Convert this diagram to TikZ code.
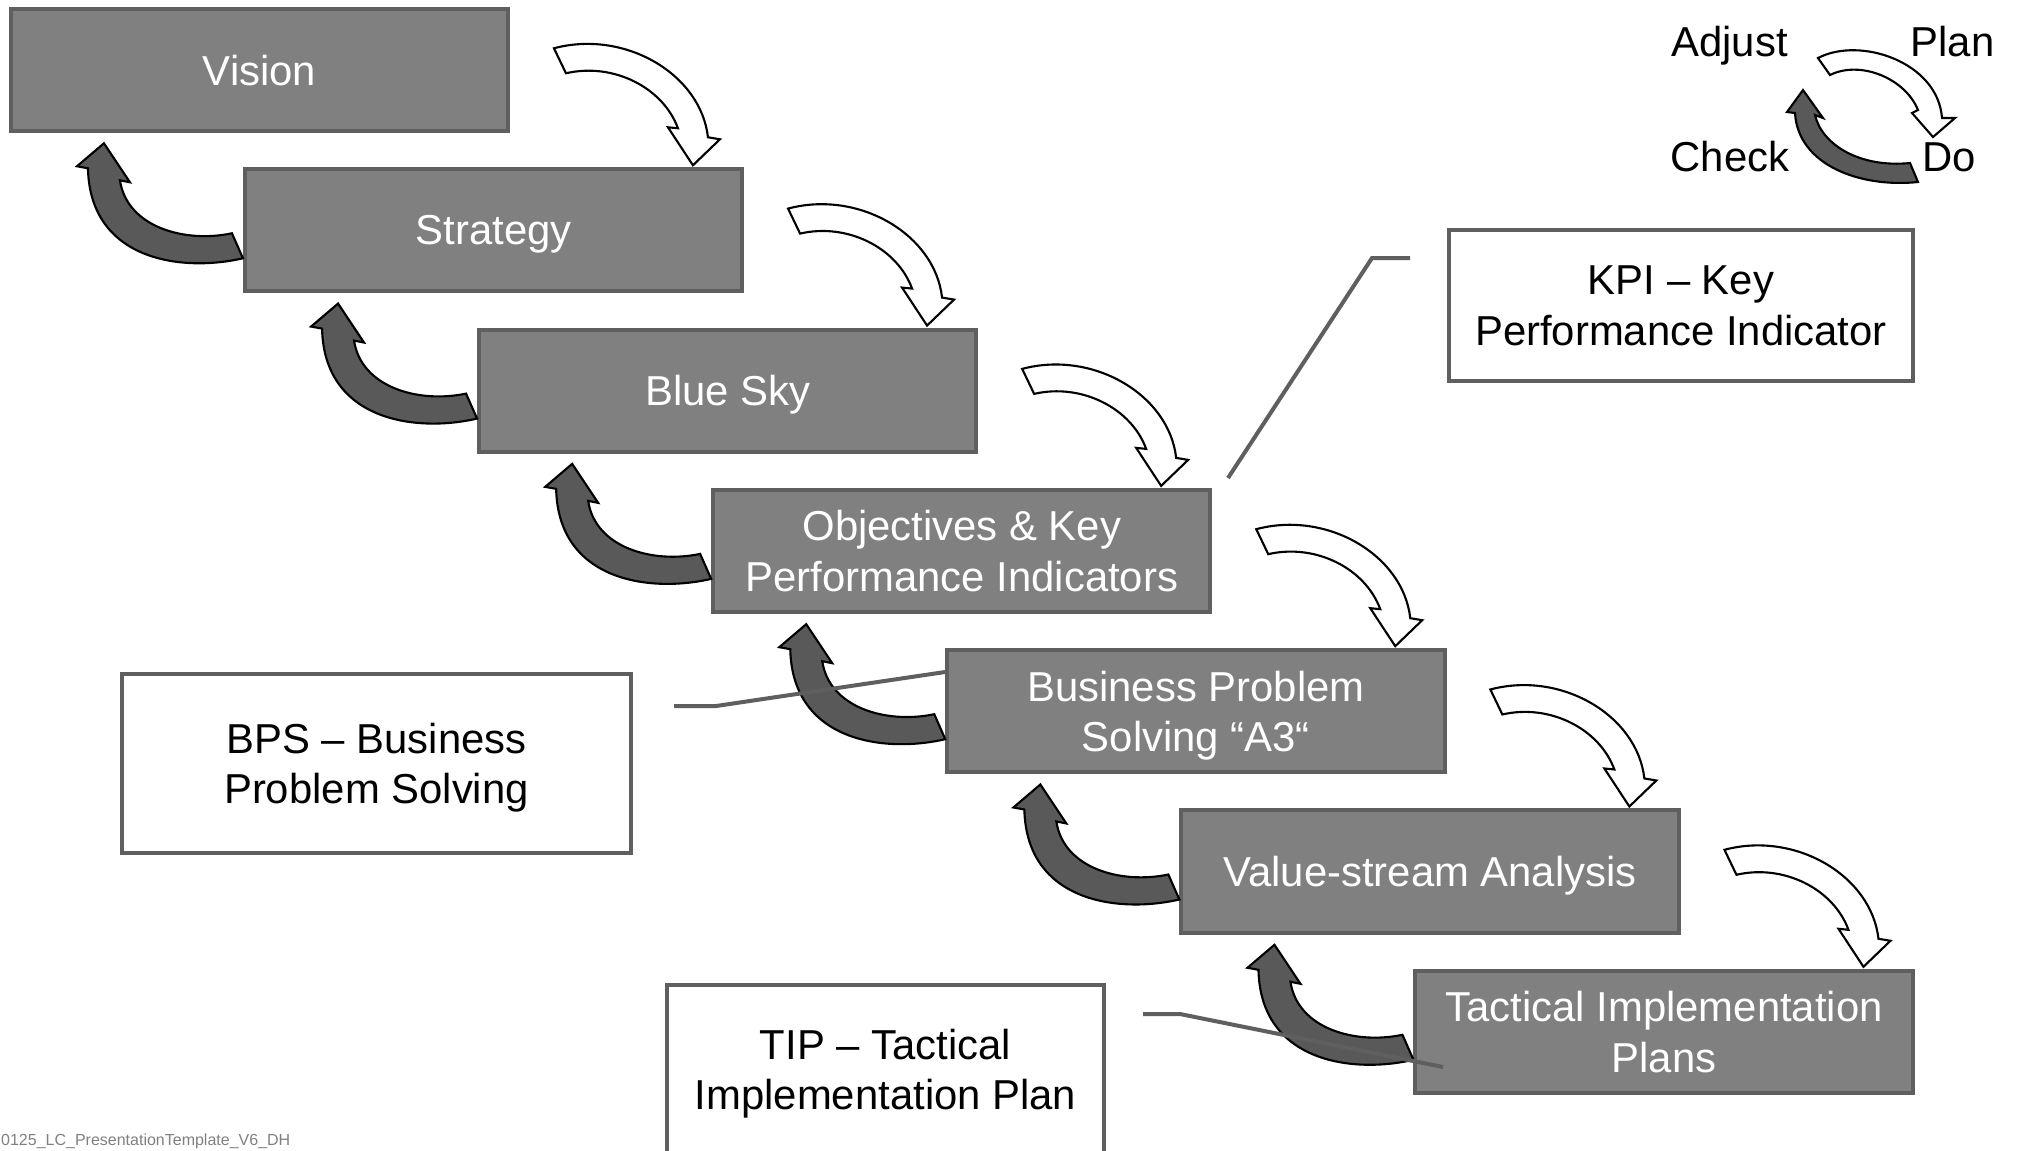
\documentclass[tikz,border=0pt]{standalone}
\usepackage{fontspec}
\setmainfont{Liberation Sans}
\definecolor{boxfill}{HTML}{808080}
\definecolor{boxline}{HTML}{5F5F5F}
\definecolor{backfill}{HTML}{595959}
\definecolor{footgray}{HTML}{808080}
\begin{document}
\begin{tikzpicture}[x=0.01cm,y=-0.01cm]
\tikzset{
  basefont/.style={font=\fontsize{11.9}{14.3}\selectfont},
  stagebox/.style={draw=boxline, fill=boxfill, line width=1.14pt,
    minimum width=4.97cm, minimum height=1.22cm, inner sep=0pt, outer sep=0pt,
    text depth=0pt, text=white, align=center, basefont},
  notebox/.style={draw=boxline, fill=white, line width=1.14pt,
    inner sep=0pt, outer sep=0pt, text depth=0pt, align=center, basefont},
  cyclelabel/.style={anchor=base, inner sep=0pt, basefont},
  leader/.style={draw=boxline, line width=1.14pt},
  bandline/.style={draw=black, line width=0.6pt},
  % curved arrow going back up to the previous stage (origin: stage's north west corner)
  backarrow/.pic={
    \filldraw[bandline, fill=backfill]
      (-2,89) .. controls (-62,103) and (-155,92) .. (-157,-1)
      -- (-168,-3) -- (-141,-26) -- (-115,13) -- (-125,11)
      .. controls (-118,58) and (-60,74) .. (-13,64) -- cycle;
  },
  % curved arrow coming down onto the stage (origin: stage's north west corner)
  fwdarrow/.pic={
    \filldraw[bandline, fill=white]
      (309,-121) .. controls (380,-140) and (456,-95) .. (463,-32)
      -- (475,-30) -- (448,-4) -- (423,-42) -- (433,-41)
      .. controls (418,-82) and (368,-107) .. (321,-96) -- cycle;
  }
}
\useasboundingbox (0,0) rectangle (2017,1150);

% stages of the cascade
\node[stagebox] (s0) at (259.5,70)    {Vision};
\node[stagebox] (s1) at (493.6,230.3) {Strategy};
\node[stagebox] (s2) at (727.7,390.6) {Blue Sky};
\node[stagebox] (s3) at (961.8,550.9) {Objectives \& Key\\Performance Indicators};
\node[stagebox] (s4) at (1195.9,711.2) {Business Problem\\Solving “A3“};
\node[stagebox] (s5) at (1430,871.5)  {Value-stream Analysis};
\node[stagebox] (s6) at (1664.1,1031.8) {Tactical Implementation\\Plans};

% forward and feedback arrows between neighbouring stages
\foreach \i in {1,...,6}{
  \pic at (s\i.north west) {fwdarrow};
  \pic at (s\i.north west) {backarrow};
}

% explanation boxes
\node[notebox, minimum width=4.64cm, minimum height=1.51cm] (kpi) at (1681,305.5)
  {KPI – Key\\Performance Indicator};
\node[notebox, minimum width=5.09cm, minimum height=1.79cm] (bps) at (376.5,763.5)
  {BPS – Business\\Problem Solving};
\node[notebox, minimum width=4.37cm, minimum height=1.68cm] (tip) at (885.5,1069)
  {TIP – Tactical\\Implementation Plan};

% leader lines of the explanation boxes
\coordinate (kpiA) at (1410,258);
\coordinate (kpiB) at (1372,258);
\coordinate (kpiC) at (1228,478);
\coordinate (bpsA) at (674,706);
\coordinate (bpsB) at (716,706);
\coordinate (bpsC) at (945,672);
\coordinate (tipA) at (1143,1014);
\coordinate (tipB) at (1180,1014);
\coordinate (tipC) at (1443,1067);
\draw[leader] (kpiA) -- (kpiB) -- (kpiC);
\draw[leader] (bpsA) -- (bpsB) -- (bpsC);
\draw[leader] (tipA) -- (tipB) -- (tipC);

% PDCA cycle
\node[cyclelabel] (adjust) at (1729.5,56) {Adjust};
\node[cyclelabel] (plan)   at (1952.5,56) {Plan};
\node[cyclelabel] (check)  at (1730,171)  {Check};
\node[cyclelabel] (do)     at (1949,171)  {Do};
\filldraw[bandline, fill=white]
  (1818,58) .. controls (1860,36) and (1938,62) .. (1942,118)
  -- (1955,118) -- (1933,137) -- (1912,113) -- (1918,110)
  .. controls (1905,78) and (1860,60) .. (1830,75) -- cycle;
\filldraw[bandline, fill=backfill]
  (1918,182) .. controls (1860,188) and (1798,165) .. (1795,113)
  -- (1787,112) -- (1803,90) -- (1823,118) -- (1815,115)
  .. controls (1822,145) and (1860,168) .. (1910,163) -- cycle;

% footer
\node[anchor=base east, inner sep=0pt, text=footgray, font=\fontsize{4.55}{5}\selectfont]
  (footer) at (291,1145) {0125\_LC\_PresentationTemplate\_V6\_DH};
\end{tikzpicture}
\end{document}
